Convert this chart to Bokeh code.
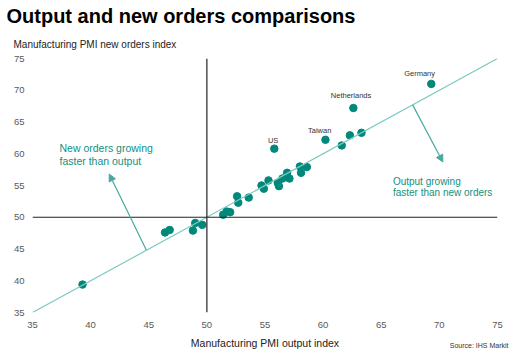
from bokeh.plotting import figure
from bokeh.models import Range1d, Span, Slope, Label, Arrow, NormalHead, FixedTicker, Title
from bokeh.embed import file_html
from bokeh.resources import INLINE

# Data
output_idx = [39.3, 46.4, 46.8, 49.0, 48.8, 49.6, 51.4, 51.7, 52.0, 52.6, 52.7,
              53.6, 54.7, 54.9, 55.3, 56.1, 56.2, 56.5, 56.9, 57.1, 58.0, 58.1,
              58.6, 55.8, 60.2, 62.6, 69.3, 61.6, 62.3, 63.3]
new_orders = [39.4, 47.6, 48.0, 49.1, 47.9, 48.8, 50.4, 50.9, 50.8, 53.3, 52.3,
              53.1, 55.0, 54.5, 55.8, 55.4, 54.9, 56.1, 57.0, 56.1, 58.0, 57.0,
              57.9, 60.8, 62.2, 67.2, 71.0, 61.3, 62.9, 63.3]
ticks = [35, 40, 45, 50, 55, 60, 65, 70, 75]

FONT = "Liberation Sans"
TEAL = "#00897b"
TEXT_TEAL = "#13907f"
ARROW = "#4aa89d"
DIAG = "#7ccbc2"

p = figure(width=530, height=363, output_backend="svg", toolbar_location=None,
           x_range=Range1d(35, 75), y_range=Range1d(35, 75),
           min_border_left=32, min_border_right=33, min_border_top=58,
           min_border_bottom=51)
p.outline_line_color = None
p.grid.visible = False

p.title.text = "Output and new orders comparisons"
p.title.text_font = FONT
p.title.text_font_size = "20px"
p.title.text_font_style = "bold"
p.title.text_color = "#000000"
p.title.align = "left"
p.title.offset = -26
p.title.standoff = 3

p.add_layout(Title(text="Manufacturing PMI new orders index", text_font=FONT,
                   text_font_size="10px", text_font_style="normal",
                   text_color="#222222", align="left", offset=-19,
                   standoff=17), "above")

p.add_layout(Title(text="Source: IHS Markit", text_font=FONT,
                   text_font_size="7px", text_font_style="normal",
                   text_color="#333333", align="right", offset=-11,
                   vertical_align="top", standoff=-20), "below")

for ax in (p.xaxis[0], p.yaxis[0]):
    ax.ticker = FixedTicker(ticks=ticks)
    ax.axis_line_color = None
    ax.major_tick_line_color = None
    ax.minor_tick_line_color = None
    ax.major_tick_out = 0
    ax.major_tick_in = 0
    ax.minor_tick_out = 0
    ax.major_label_text_font = FONT
    ax.major_label_text_font_size = "9.5px"
    ax.major_label_text_color = "#595959"
    ax.major_label_standoff = 8
p.xaxis.major_label_standoff = 9

p.xaxis.axis_label = "Manufacturing PMI output index"
p.xaxis.axis_label_text_font = FONT
p.xaxis.axis_label_text_font_size = "10.5px"
p.xaxis.axis_label_text_font_style = "normal"
p.xaxis.axis_label_text_color = "#222222"
p.xaxis.axis_label_standoff = 6

# reference lines
p.add_layout(Slope(gradient=1, y_intercept=0, line_color=DIAG, line_width=1.2))
p.add_layout(Span(location=50, dimension="height", line_color="#222222", line_width=1.2))
p.add_layout(Span(location=50, dimension="width", line_color="#222222", line_width=1.2))

# arrows
p.add_layout(Arrow(x_start=44.8, y_start=44.8, x_end=41.6, y_end=56.8,
                   line_color=ARROW, line_width=1.2,
                   end=NormalHead(size=7, fill_color=ARROW, line_color=ARROW)))
p.add_layout(Arrow(x_start=67.7, y_start=67.7, x_end=70.3, y_end=58.7,
                   line_color=ARROW, line_width=1.2,
                   end=NormalHead(size=7, fill_color=ARROW, line_color=ARROW)))

p.scatter(output_idx, new_orders, size=7.5, fill_color=TEAL, line_color=TEAL)

def lab(x, y, text, size, color, align="left"):
    p.add_layout(Label(x=x, y=y, text=text, text_font=FONT, text_font_size=size,
                       text_color=color, text_align=align, text_baseline="middle"))

lab(37.32, 60.83, "New orders growing", "10.5px", TEXT_TEAL)
lab(37.32, 58.83, "faster than output", "10.5px", TEXT_TEAL)
lab(66.0, 55.68, "Output growing", "10px", TEXT_TEAL)
lab(66.0, 53.94, "faster than new orders", "10px", TEXT_TEAL)

lab(55.7, 62.1, "US", "7.5px", "#333333", align="center")
lab(59.7, 63.7, "Taiwan", "7.5px", "#333333", align="center")
lab(62.4, 69.2, "Netherlands", "7.5px", "#333333", align="center")
lab(68.3, 72.6, "Germany", "7.5px", "#333333", align="center")

open("out.html", "w").write(file_html(p, INLINE))
